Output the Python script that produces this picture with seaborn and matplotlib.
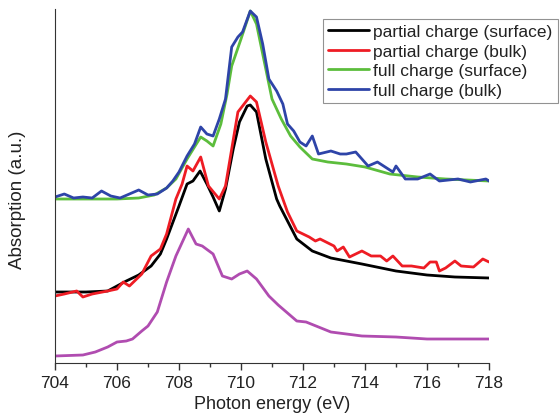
import numpy as np
import pandas as pd
import matplotlib
matplotlib.use("Agg")
import matplotlib.pyplot as plt
import seaborn as sns

# energies (eV) and absorption (arbitrary units, stacked offsets)
e_full_bulk = [704.0, 704.3, 704.6, 704.9, 705.2, 705.5, 705.8, 706.1, 706.4, 706.7, 707.0,
               707.3, 707.6, 707.8, 708.0, 708.26, 708.5, 708.7, 708.9, 709.1, 709.3, 709.5,
               709.7, 709.9, 710.05, 710.3, 710.5, 710.7, 710.9, 711.15, 711.35, 711.5, 711.7,
               711.9, 712.1, 712.3, 712.5, 712.9, 713.2, 713.4, 713.7, 714.1, 714.4, 714.9,
               715.0, 715.3, 715.7, 716.1, 716.4, 717.0, 717.4, 717.9, 718.0]
full_bulk = [166, 169, 165, 166, 165, 172, 167, 165, 169, 173, 168,
             169, 175, 182, 191, 207, 219, 236, 229, 227, 244, 264,
             316, 326, 331, 352, 346, 319, 284, 272, 259, 239, 232,
             221, 217, 227, 209, 212, 209, 209, 211, 197, 201, 191,
             197, 184, 184, 189, 182, 184, 181, 184, 182]

e_full_surf = [704.0, 706.0, 706.7, 707.2, 707.6, 707.9, 708.26, 708.5, 708.7, 708.9, 709.1,
               709.35, 709.55, 709.7, 710.0, 710.3, 710.5, 710.8, 711.0, 711.3, 711.6, 711.9,
               712.3, 712.8, 713.4, 714.0, 714.8, 715.7, 716.6, 718.0]
full_surf = [164, 164, 165, 168, 175, 184, 204, 216, 226, 222, 217,
             239, 269, 297, 324, 352, 339, 294, 264, 244, 227, 216,
             204, 201, 199, 196, 189, 186, 184, 182]

e_part_surf = [704.0, 705.0, 705.7, 706.3, 706.7, 707.1, 707.4, 707.6, 708.0, 708.26, 708.45,
               708.68, 708.9, 709.1, 709.3, 709.5, 709.75, 709.95, 710.2, 710.3, 710.5, 710.8,
               711.15, 711.25, 711.8, 712.3, 712.9, 713.9, 715.0, 716.0, 716.9, 718.0]
part_surf = [71, 71, 72, 82, 88, 97, 109, 124, 157, 179, 182,
             192, 179, 166, 152, 174, 214, 241, 257, 258, 251, 204,
             164, 157, 124, 112, 105, 99, 92, 88, 86, 85]

e_part_bulk = [704.0, 704.3, 704.7, 704.9, 705.2, 705.7, 706.0, 706.2, 706.4, 706.8, 707.1,
               707.4, 707.6, 707.9, 708.1, 708.26, 708.45, 708.7, 708.95, 709.3, 709.5, 709.9,
               710.3, 710.5, 710.8, 711.2, 711.5, 711.8, 712.2, 712.4, 712.55, 713.0, 713.1,
               713.3, 713.5, 713.9, 714.2, 714.5, 714.7, 714.9, 715.2, 715.5, 715.9, 716.1,
               716.3, 716.4, 716.6, 716.9, 717.1, 717.5, 717.8, 718.0]
part_bulk = [67, 69, 72, 66, 69, 72, 74, 81, 77, 89, 107,
             114, 129, 164, 179, 197, 192, 206, 177, 164, 177, 251,
             267, 261, 221, 177, 151, 132, 126, 122, 124, 117, 112,
             116, 106, 112, 107, 107, 102, 107, 97, 97, 95, 101,
             101, 92, 95, 102, 97, 96, 104, 101]

e_pristine = [704.0, 704.9, 705.3, 705.7, 706.0, 706.3, 706.5, 706.8, 707.0, 707.3, 707.6,
              707.9, 708.3, 708.55, 708.75, 709.1, 709.4, 709.7, 709.95, 710.2, 710.5, 710.9,
              711.2, 711.8, 712.1, 712.9, 713.9, 715.0, 716.0, 718.0]
pristine = [7, 8, 11, 16, 21, 22, 24, 32, 37, 51, 81,
            107, 134, 119, 117, 109, 87, 84, 89, 92, 84, 67,
            58, 42, 41, 31, 27, 26, 24, 24]

series = [
    ("partial charge (surface)", e_part_surf, part_surf, "#000000"),
    ("partial charge (bulk)", e_part_bulk, part_bulk, "#ee1c24"),
    ("full charge (surface)", e_full_surf, full_surf, "#5cbd3c"),
    ("full charge (bulk)", e_full_bulk, full_bulk, "#2e44a8"),
]

sns.set_style("ticks")
plt.rcParams['font.family'] = ['Liberation Sans', 'DejaVu Sans']

fig = plt.figure(figsize=(5.6, 4.14), dpi=100)
ax = fig.add_axes([55/560, 50/414, 434/560, 354/414])

sns.lineplot(x=e_pristine, y=pristine, color="#b04cb0", lw=2, ax=ax, sort=False)
for name, e, v, c in series:
    sns.lineplot(x=e, y=v, color=c, lw=2, label=name, ax=ax, sort=False)

ax.set_xlim(704, 718)
ax.set_ylim(0, 354)
ax.set_xticks(np.arange(704, 719, 2))
ax.set_xticks(np.arange(704, 719, 1), minor=True)
ax.set_yticks([])
ax.tick_params(axis='x', which='major', length=5, width=1, labelsize=12.5,
               direction='out', colors='#333333', labelcolor='#222222')
ax.tick_params(axis='x', which='minor', length=3, width=1, direction='out', colors='#333333')
sns.despine(ax=ax)
ax.spines['left'].set_color('#333333')
ax.spines['bottom'].set_color('#333333')
ax.set_xlabel("Photon energy (eV)", fontsize=13, color='#222222')
ax.set_ylabel("Absorption (a.u.)", fontsize=13.5, color='#222222')
ax.yaxis.set_label_coords(-0.067, 0.463)

leg = ax.legend(loc='upper left', bbox_to_anchor=(323/560, 1 - 20/414),
                bbox_transform=fig.transFigure, fontsize=12.5, frameon=True,
                fancybox=False, handlelength=2.35, handletextpad=0.25,
                labelspacing=0.25, borderpad=0.3, borderaxespad=0)
leg.get_frame().set_edgecolor('#777777')
leg.get_frame().set_linewidth(0.8)
for t in leg.get_texts():
    t.set_color('#222222')

fig.savefig("out.png", dpi=100)
